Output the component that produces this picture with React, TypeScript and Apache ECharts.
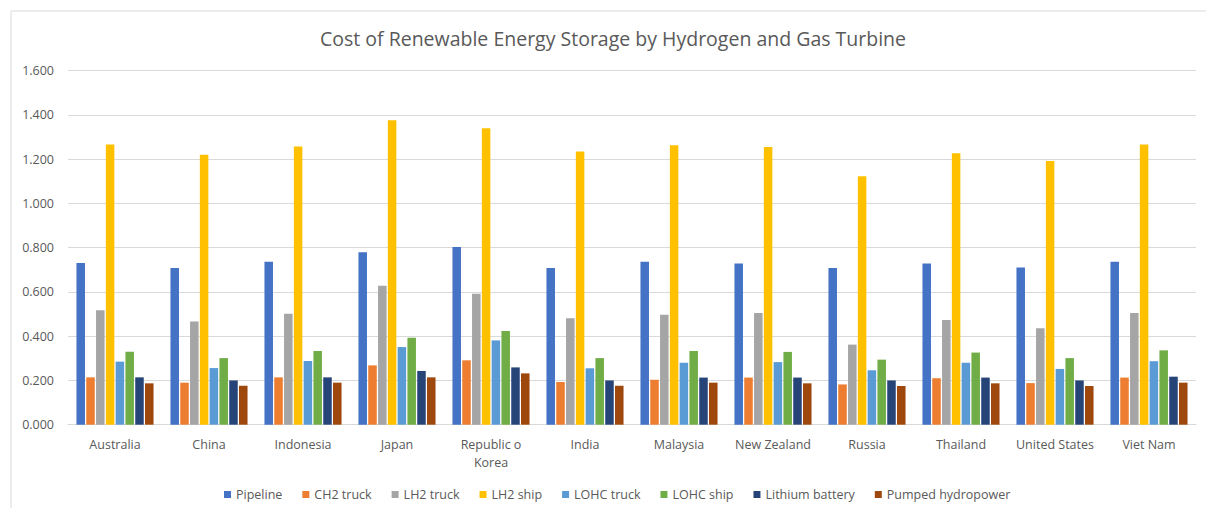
import React, { useEffect, useRef } from "react";
import * as echarts from "echarts";

const categories = [
  "Australia", "China", "Indonesia", "Japan", "Republic o Korea", "India",
  "Malaysia", "New Zealand", "Russia", "Thailand", "United States", "Viet Nam",
];

const pipeline = [0.731, 0.708, 0.737, 0.779, 0.803, 0.708, 0.737, 0.729, 0.708, 0.729, 0.711, 0.737];
const ch2Truck = [0.214, 0.190, 0.214, 0.268, 0.291, 0.193, 0.203, 0.213, 0.182, 0.210, 0.188, 0.213];
const lh2Truck = [0.517, 0.467, 0.502, 0.628, 0.592, 0.481, 0.497, 0.505, 0.362, 0.473, 0.436, 0.505];
const lh2Ship = [1.266, 1.220, 1.257, 1.376, 1.340, 1.235, 1.263, 1.255, 1.123, 1.227, 1.192, 1.266];
const lohcTruck = [0.285, 0.256, 0.288, 0.351, 0.381, 0.255, 0.280, 0.283, 0.246, 0.280, 0.252, 0.287];
const lohcShip = [0.330, 0.301, 0.333, 0.393, 0.423, 0.301, 0.333, 0.329, 0.294, 0.326, 0.301, 0.336];
const lithiumBattery = [0.214, 0.200, 0.214, 0.243, 0.259, 0.200, 0.213, 0.213, 0.200, 0.213, 0.200, 0.217];
const pumpedHydro = [0.187, 0.176, 0.190, 0.214, 0.232, 0.176, 0.190, 0.187, 0.175, 0.187, 0.175, 0.190];

const seriesNames = [
  "Pipeline", "CH2 truck", "LH2 truck", "LH2 ship",
  "LOHC truck", "LOHC ship", "Lithium battery", "Pumped hydropower",
];
const seriesValues = [pipeline, ch2Truck, lh2Truck, lh2Ship, lohcTruck, lohcShip, lithiumBattery, pumpedHydro];
const colors = ["#4472C4", "#ED7D31", "#A5A5A5", "#FFC000", "#5B9BD5", "#70AD47", "#264478", "#9E480E"];

const FONT = "'Open Sans', sans-serif";
const TEXT = "#595959";

export default function App() {
  const ref = useRef<HTMLDivElement>(null);

  useEffect(() => {
    document.body.style.margin = "0";
    if (!ref.current) return;
    const chart = echarts.init(ref.current, null, { renderer: "svg" });
    chart.setOption({
      animation: false,
      backgroundColor: "#ffffff",
      color: colors,
      title: {
        text: "Cost of Renewable Energy Storage by Hydrogen and Gas Turbine",
        left: 315,
        top: 23,
        textStyle: { fontFamily: FONT, fontSize: 19.5, fontWeight: "normal", color: TEXT },
      },
      graphic: [
        {
          type: "rect",
          shape: { x: 11, y: 11, width: 1400, height: 700 },
          style: { fill: "none", stroke: "#d9d9d9", lineWidth: 1 },
          silent: true,
        },
      ],
      legend: {
        data: seriesNames,
        left: 219,
        top: 483,
        icon: "rect",
        itemWidth: 7,
        itemHeight: 7,
        itemGap: 20,
        textStyle: { fontFamily: FONT, fontSize: 12.5, color: TEXT },
      },
      grid: { left: 68, right: 10, top: 70.7, bottom: 83.3, containLabel: false },
      xAxis: {
        type: "category",
        data: categories,
        axisTick: { show: false },
        axisLine: { lineStyle: { color: "#d9d9d9", width: 1 } },
        axisLabel: {
          fontFamily: FONT,
          fontSize: 12.5,
          color: TEXT,
          margin: 11,
          lineHeight: 18,
          interval: 0,
          formatter: (v: string) => v.replace("Republic o ", "Republic o\n"),
        },
      },
      yAxis: {
        type: "value",
        min: 0,
        max: 1.6,
        interval: 0.2,
        axisLine: { show: false },
        axisTick: { show: false },
        splitLine: { lineStyle: { color: "#d9d9d9", width: 1 } },
        axisLabel: {
          fontFamily: FONT,
          fontSize: 12.5,
          color: TEXT,
          margin: 14,
          formatter: (v: number) => v.toFixed(3),
        },
      },
      series: seriesNames.map((name, i) => ({
        name,
        type: "bar",
        data: seriesValues[i],
        barGap: "15%",
        barCategoryGap: "18%",
        itemStyle: { color: colors[i] },
      })),
    });
    return () => chart.dispose();
  }, []);

  return <div ref={ref} style={{ width: 1206, height: 508 }} />;
}
